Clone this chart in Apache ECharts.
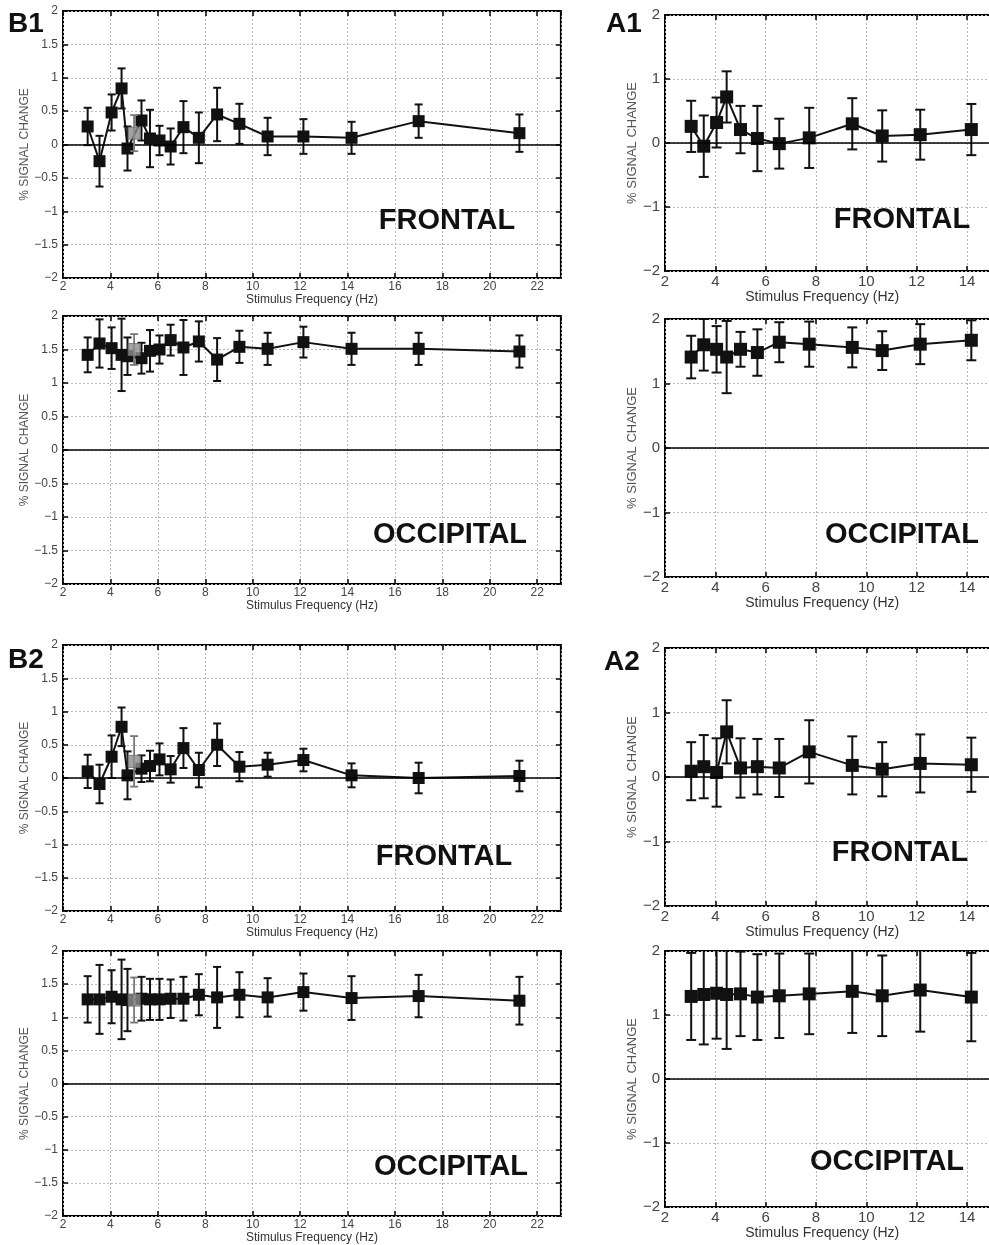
<!DOCTYPE html>
<html><head><meta charset="utf-8">
<script src="https://cdn.jsdelivr.net/npm/echarts@6/dist/echarts.min.js"></script>
<style>html,body{margin:0;padding:0;background:#fff;overflow:hidden;width:989px;height:1245px}#c{width:1100px;height:1245px}</style>
</head><body><div id="c"></div>
<script>
// ---- data ----
const freqB = [3.04,3.54,4.05,4.47,4.72,5.31,5.67,6.07,6.54,7.08,7.73,8.5,9.44,10.63,12.14,14.17,17.0,21.25];
const grayFreqB = 5.0;
const freqA = [3.04,3.54,4.05,4.45,5.0,5.67,6.54,7.73,9.44,10.63,12.14,14.17];

const b1FrontalMean = [0.27,-0.25,0.48,0.84,-0.06,0.36,0.09,0.06,-0.03,0.26,0.10,0.45,0.31,0.12,0.12,0.10,0.35,0.17];
const b1FrontalErr  = [0.28,0.38,0.27,0.30,0.33,0.30,0.43,0.22,0.27,0.39,0.38,0.40,0.30,0.28,0.26,0.24,0.25,0.28];
const b1FrontalGray = [0.17,0.27];

const b1OccMean = [1.42,1.59,1.52,1.42,1.40,1.37,1.48,1.50,1.64,1.53,1.62,1.35,1.54,1.51,1.61,1.51,1.51,1.47];
const b1OccErr  = [0.26,0.36,0.31,0.54,0.28,0.23,0.31,0.21,0.23,0.41,0.30,0.32,0.24,0.24,0.23,0.24,0.24,0.24];
const b1OccGray = [1.50,0.23];

const b2FrontalMean = [0.10,-0.09,0.32,0.77,0.04,0.14,0.18,0.28,0.13,0.45,0.12,0.50,0.17,0.20,0.27,0.04,0.00,0.03];
const b2FrontalErr  = [0.25,0.29,0.32,0.29,0.36,0.20,0.23,0.24,0.20,0.30,0.26,0.32,0.22,0.18,0.17,0.18,0.23,0.23];
const b2FrontalGray = [0.25,0.38];

const b2OccMean = [1.27,1.27,1.31,1.27,1.26,1.28,1.27,1.27,1.28,1.28,1.34,1.30,1.34,1.30,1.38,1.29,1.32,1.25];
const b2OccErr  = [0.35,0.52,0.40,0.60,0.47,0.33,0.31,0.31,0.29,0.33,0.31,0.46,0.34,0.29,0.28,0.33,0.32,0.36];
const b2OccGray = [1.26,0.34];

const a1FrontalMean = [0.26,-0.05,0.32,0.72,0.21,0.07,-0.01,0.08,0.30,0.11,0.13,0.21];
const a1FrontalErr  = [0.40,0.48,0.39,0.40,0.37,0.51,0.39,0.47,0.40,0.40,0.39,0.40];
const a1OccMean = [1.41,1.60,1.53,1.41,1.53,1.48,1.64,1.61,1.56,1.51,1.61,1.67];
const a1OccErr  = [0.33,0.40,0.36,0.56,0.27,0.36,0.31,0.35,0.31,0.30,0.31,0.31];
const a2FrontalMean = [0.09,0.16,0.07,0.70,0.14,0.16,0.14,0.39,0.18,0.12,0.21,0.19];
const a2FrontalErr  = [0.45,0.49,0.53,0.49,0.46,0.43,0.45,0.49,0.45,0.42,0.45,0.42];
const a2OccMean = [1.29,1.32,1.34,1.32,1.33,1.28,1.30,1.33,1.37,1.30,1.39,1.28];
const a2OccErr  = [0.68,0.78,0.71,0.85,0.66,0.67,0.66,0.63,0.65,0.63,0.65,0.69];

const xName = 'Stimulus Frequency (Hz)';
const yName = '% SIGNAL CHANGE';

// ---- layout ----
const FONT = 'Liberation Sans';
const panels = [
  {kind:'B', left:63, top:11, height:267, freq:freqB, mean:b1FrontalMean, err:b1FrontalErr, gray:b1FrontalGray},
  {kind:'B', left:63, top:316, height:268, freq:freqB, mean:b1OccMean, err:b1OccErr, gray:b1OccGray},
  {kind:'B', left:63, top:645, height:266, freq:freqB, mean:b2FrontalMean, err:b2FrontalErr, gray:b2FrontalGray},
  {kind:'B', left:63, top:951, height:267, freq:freqB, mean:b2OccMean, err:b2OccErr, gray:b2OccGray},
  {kind:'A', left:665, top:15, height:256, freq:freqA, mean:a1FrontalMean, err:a1FrontalErr},
  {kind:'A', left:665, top:319, height:258, freq:freqA, mean:a1OccMean, err:a1OccErr},
  {kind:'A', left:665, top:648, height:258, freq:freqA, mean:a2FrontalMean, err:a2FrontalErr},
  {kind:'A', left:665, top:951, height:256, freq:freqA, mean:a2OccMean, err:a2OccErr}
];

function errRender(capHalf, color, width){
  return function(params, api){
    const x = api.value(0), lo = api.value(1), hi = api.value(2);
    const p1 = api.coord([x, lo]), p2 = api.coord([x, hi]);
    const st = {stroke: color, lineWidth: width};
    return {type:'group', children:[
      {type:'line', shape:{x1:p1[0],y1:p1[1],x2:p2[0],y2:p2[1]}, style:st},
      {type:'line', shape:{x1:p1[0]-capHalf,y1:p1[1],x2:p1[0]+capHalf,y2:p1[1]}, style:st},
      {type:'line', shape:{x1:p2[0]-capHalf,y1:p2[1],x2:p2[0]+capHalf,y2:p2[1]}, style:st}
    ]};
  };
}
const minus = v => String(v).replace('-', '\u2212');

const grids=[], xAxes=[], yAxes=[], series=[];
panels.forEach((p, i) => {
  const isB = p.kind === 'B';
  const xmax = isB ? 23 : 16;
  const pxPerHz = isB ? 23.71 : 25.17;
  grids.push({left:p.left, top:p.top, width:(xmax-2)*pxPerHz, height:p.height,
    show:true, borderColor:'#000', borderWidth:2, backgroundColor:'transparent'});
  const tickFs = isB ? 12 : 15;
  const split = {show:true, lineStyle:{color:'#b8b8b8', type:[2,2], width:1}};
  const tick = {show:true, inside:true, length:5, lineStyle:{color:'#000', width:1.5}};
  xAxes.push({type:'value', gridIndex:i, position:'bottom', min:2, max:xmax, interval:2,
    axisLine:{show:false, onZero:false}, axisTick:tick,
    axisLabel:{color:'#444', fontSize:tickFs, fontFamily:FONT, margin:3, showMaxLabel: !isB},
    splitLine:split,
    name:xName, nameLocation:'middle', nameGap: isB ? 13 : 18,
    nameTextStyle:{color:'#333', fontSize: isB ? 12 : 14, fontFamily:FONT, verticalAlign:'top',
      padding: isB ? 0 : [0, 38, 0, 0]}});
  xAxes.push({type:'value', gridIndex:i, position:'top', min:2, max:xmax, interval:2,
    axisLine:{show:false, onZero:false}, axisTick:tick,
    axisLabel:{show:false}, splitLine:{show:false}});
  yAxes.push({type:'value', gridIndex:i, position:'left', min:-2, max:2, interval: isB ? 0.5 : 1,
    axisLine:{show:false, onZero:false}, axisTick:tick,
    axisLabel:{color:'#444', fontSize:tickFs, fontFamily:FONT, margin:5, formatter:minus},
    splitLine:split,
    name:yName, nameLocation:'middle', nameRotate:90, nameGap: isB ? 26 : 24,
    nameTextStyle:{color:'#555', fontSize: isB ? 12 : 13, fontFamily:FONT}});
  yAxes.push({type:'value', gridIndex:i, position:'right', min:-2, max:2, interval: isB ? 0.5 : 1,
    axisLine:{show:false, onZero:false}, axisTick:tick,
    axisLabel:{show:false}, splitLine:{show:false}});
  const xi = i*2, yi = i*2;
  series.push({type:'custom', xAxisIndex:xi, yAxisIndex:yi, clip:true, z:3,
    renderItem: errRender(isB ? 4 : 5, '#111', 2),
    data: p.freq.map((f,k)=>[f, p.mean[k]-p.err[k], p.mean[k]+p.err[k]])});
  series.push({type:'line', xAxisIndex:xi, yAxisIndex:yi, clip:true, z:4,
    data: p.freq.map((f,k)=>[f, p.mean[k]]),
    symbol:'rect', symbolSize: isB ? 12 : 13, showSymbol:true,
    itemStyle:{color:'#111'}, lineStyle:{color:'#111', width:2},
    markLine:{silent:true, symbol:'none', label:{show:false}, animation:false,
      lineStyle:{color:'#000', width:1.5, type:'solid'}, data:[{yAxis:0}]}});
  if (p.gray) {
    series.push({type:'custom', xAxisIndex:xi, yAxisIndex:yi, clip:true, z:5,
      renderItem: errRender(4, '#777', 1.8),
      data:[[grayFreqB, p.gray[0]-p.gray[1], p.gray[0]+p.gray[1]]]});
    series.push({type:'scatter', xAxisIndex:xi, yAxisIndex:yi, z:6,
      data:[[grayFreqB, p.gray[0]]], symbol:'rect', symbolSize:12,
      itemStyle:{color:'#8c8c8c', borderColor:'#6a6a6a', borderWidth:1}});
  }
});

function txt(x, y, s, size, align){
  return {type:'text', x:x, y:y, z:100,
    style:{text:s, fill:'#111', font:'bold '+size+'px "'+FONT+'"', textAlign:align||'left', textVerticalAlign:'middle'}};
}
const graphics = [
  txt(8, 24, 'B1', 28), txt(606, 24, 'A1', 28), txt(8, 660, 'B2', 28), txt(604, 662, 'A2', 28),
  txt(447, 221, 'FRONTAL', 29, 'center'), txt(450, 535, 'OCCIPITAL', 29, 'center'),
  txt(444, 857, 'FRONTAL', 29, 'center'), txt(451, 1167, 'OCCIPITAL', 29, 'center'),
  txt(902, 220, 'FRONTAL', 29, 'center'), txt(902, 535, 'OCCIPITAL', 29, 'center'),
  txt(900, 853, 'FRONTAL', 29, 'center'), txt(887, 1162, 'OCCIPITAL', 29, 'center')
];

const chart = echarts.init(document.getElementById('c'), null, {renderer:'canvas'});
chart.setOption({animation:false, backgroundColor:'#fff',
  grid:grids, xAxis:xAxes, yAxis:yAxes, series:series, graphic:graphics});
</script></body></html>
